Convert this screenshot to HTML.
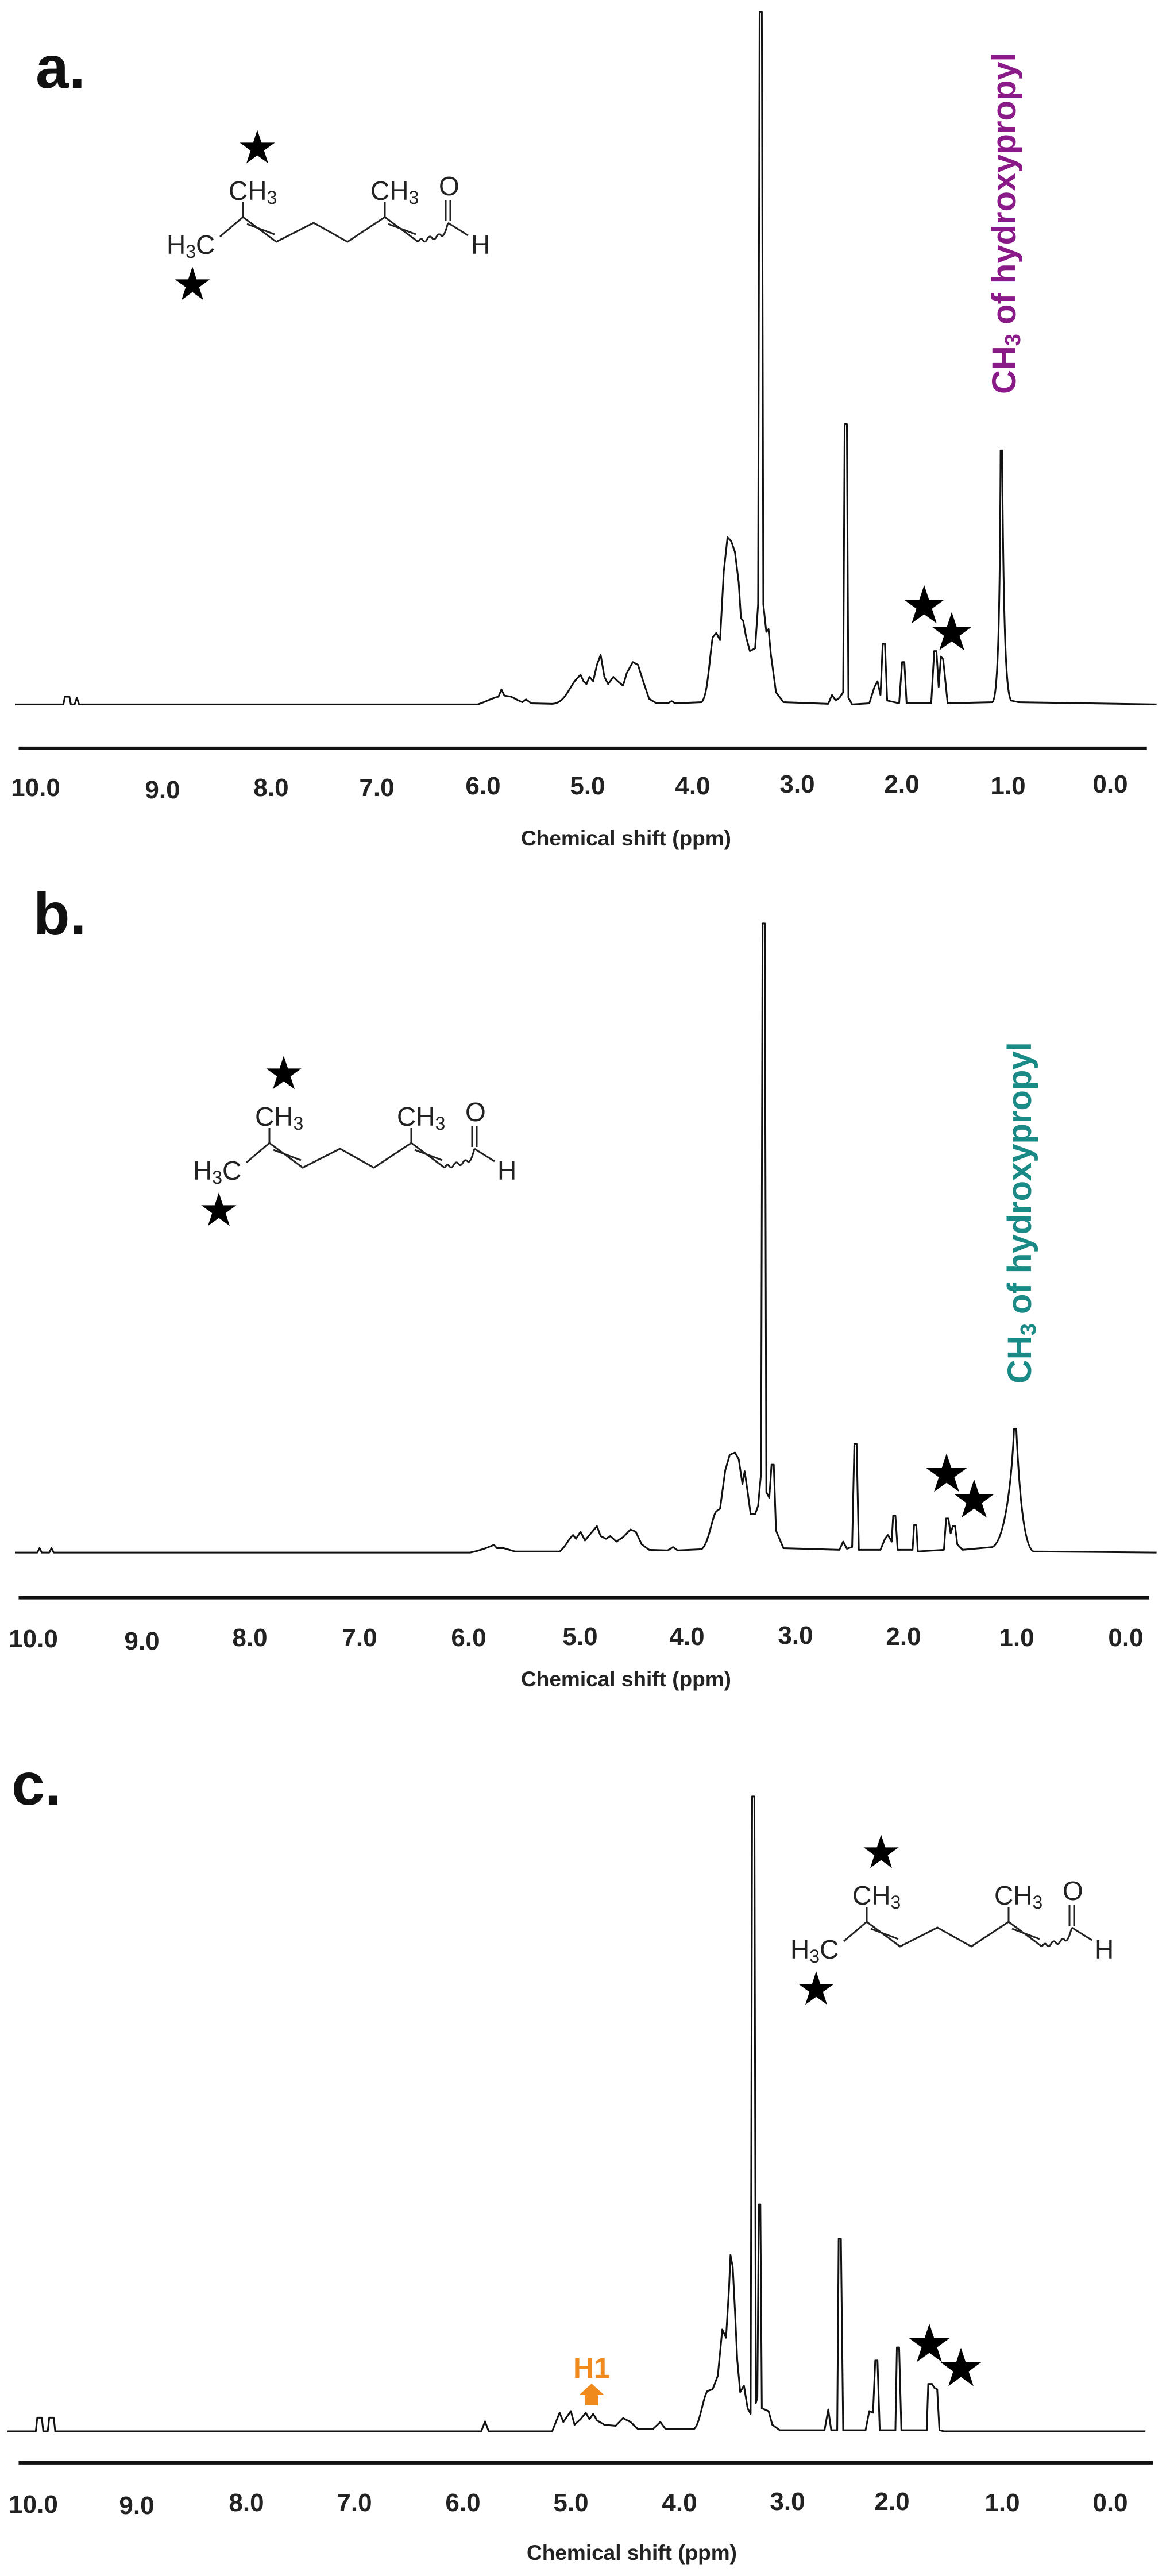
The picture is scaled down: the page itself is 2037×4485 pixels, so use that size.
<!DOCTYPE html>
<html><head><meta charset="utf-8"><style>
html,body{margin:0;padding:0;background:#fff;}
svg{display:block;}
.t{font-family:"Liberation Sans Narrow","Liberation Sans",sans-serif;font-weight:bold;font-size:44px;fill:#222;text-anchor:middle;}
.ti{font-family:"Liberation Sans",sans-serif;font-weight:bold;font-size:37px;fill:#222;text-anchor:middle;}
.lab{font-family:"Liberation Sans",sans-serif;font-weight:bold;font-size:104px;fill:#111;}
.st{font-family:"DejaVu Sans",sans-serif;fill:#000;text-anchor:middle;}
.ch{font-family:"Liberation Sans Narrow","Liberation Sans",sans-serif;font-size:46px;fill:#222;}
.sp{fill:none;stroke:#111;stroke-width:3;vector-effect:non-scaling-stroke;stroke-linejoin:round;}
.ax{stroke:#111;stroke-width:6;vector-effect:non-scaling-stroke;}
.bd{fill:none;stroke:#222;stroke-width:3;}
</style></head><body>
<svg width="2037" height="4485" viewBox="0 0 2037 4485" xmlns="http://www.w3.org/2000/svg">
<defs>
<g id="mol">
<path class="bd" d="M383,412 L423,378 L481,421 L546,388 L605,421 L670,378 L728,421 M423,378 L423,352 M670,378 L670,352 M430,390 L478,408 M676,390 L724,408"/>
<path class="bd" d="M728,421 q5,-8 8,-3 q4,6 8,-2 q4,-7 8,-2 q4,6 8,-2 q4,-7 8,-2 q5,5 12,-22 M780,388 L815,410 M776,385 L776,348 M784,385 L784,348"/>
</g>
</defs>

<!-- Panel a -->
<text class="lab" x="62" y="153">a.</text>
<g transform="scale(1.2991,0.9566)">
<path class="sp" d="M20,1282 L85,1282 L87,1268 L93,1268 L95,1282 L100,1282 L103,1270 L106,1282 L640,1282 C650,1278 660,1270 668,1268 L672,1255 L676,1266 L685,1268 L695,1275 L700,1278 L705,1273 L712,1280 L740,1281 C755,1280 760,1260 770,1240 L778,1228 L782,1240 L786,1245 L790,1232 L795,1240 L800,1210 L805,1192 L810,1232 L815,1245 L822,1232 L828,1240 L835,1248 L840,1225 L848,1205 L855,1210 L862,1240 L870,1272 L880,1280 L895,1280 L900,1276 L905,1280 L940,1278 C948,1270 950,1210 955,1160 L960,1152 L965,1165 L970,1040 L975,978 L980,985 L985,1005 L990,1060 L993,1125 L996,1130 L1000,1160 L1005,1185 L1012,1180 L1016,1100 L1018,22 L1021,22 L1023,1100 L1027,1150 L1030,1145 L1033,1190 L1040,1260 L1050,1278 L1110,1281 L1115,1265 L1120,1275 L1125,1270 L1130,1260 L1132,772 L1135,772 L1137,1270 L1142,1282 L1165,1280 L1172,1250 L1176,1240 L1180,1265 L1183,1172 L1186,1172 L1189,1275 L1205,1280 L1209,1205 L1212,1205 L1215,1280 L1248,1280 L1252,1185 L1255,1185 L1258,1250 L1261,1195 L1264,1200 L1267,1240 L1270,1280 L1330,1278 C1337,1270 1340,1150 1341,820 L1343,820 C1345,1150 1348,1260 1355,1275 L1365,1278 L1550,1282"/>
<line class="ax" x1="25" y1="1362" x2="1537" y2="1362"/>
</g>
<g>
<text class="t" x="62" y="1386">10.0</text><text class="t" x="283" y="1390">9.0</text><text class="t" x="472" y="1386">8.0</text><text class="t" x="656" y="1386">7.0</text><text class="t" x="841" y="1383">6.0</text><text class="t" x="1023" y="1383">5.0</text><text class="t" x="1206" y="1383">4.0</text><text class="t" x="1388" y="1380">3.0</text><text class="t" x="1570" y="1380">2.0</text><text class="t" x="1755" y="1383">1.0</text><text class="t" x="1933" y="1380">0.0</text>
<text class="ti" x="1090" y="1472">Chemical shift (ppm)</text>
</g>
<text transform="translate(1768,686) rotate(-90)" font-family="Liberation Sans,sans-serif" font-weight="bold" font-size="58" fill="#8a1a88">CH<tspan font-size="38" dy="8">3</tspan><tspan dy="-8"> of hydroxypropyl</tspan></text>
<text class="st" x="1609" y="1085" font-size="92">★</text>
<text class="st" x="1657" y="1132" font-size="92">★</text>
<g>
<use href="#mol"/>
<text class="st" x="448" y="284" font-size="80">★</text>
<text class="st" x="335" y="522" font-size="80">★</text>
<text class="ch" x="398" y="348">CH<tspan font-size="32" dy="7">3</tspan></text>
<text class="ch" x="645" y="348">CH<tspan font-size="32" dy="7">3</tspan></text>
<text class="ch" x="764" y="340">O</text>
<text class="ch" x="290" y="442">H<tspan font-size="32" dy="7">3</tspan><tspan dy="-7">C</tspan></text>
<text class="ch" x="820" y="442">H</text>
</g>

<!-- Panel b -->
<text class="lab" x="58" y="1627">b.</text>
<g transform="translate(0,1450) scale(1.2991,0.9566)">
<path class="sp" d="M20,1310 L50,1310 L53,1302 L56,1310 L66,1310 L69,1302 L72,1310 L630,1310 C645,1306 655,1300 662,1296 L666,1302 L675,1302 L690,1308 L750,1308 C758,1300 762,1285 768,1278 L772,1285 L778,1272 L784,1288 L790,1278 L800,1262 L805,1280 L812,1285 L818,1280 L826,1290 L835,1282 L845,1268 L852,1272 L860,1295 L870,1305 L895,1306 L902,1300 L908,1306 L940,1304 C950,1295 955,1240 960,1235 L965,1230 L972,1160 L978,1132 L985,1128 L990,1140 L995,1185 L998,1162 L1002,1200 L1006,1240 L1012,1240 L1016,1225 L1020,1165 L1022,165 L1025,165 L1027,1200 L1031,1210 L1034,1150 L1037,1150 L1040,1270 L1050,1302 L1125,1305 L1130,1290 L1135,1303 L1142,1300 L1145,1112 L1148,1112 L1151,1305 L1180,1305 L1186,1285 L1190,1278 L1195,1290 L1197,1243 L1200,1243 L1203,1305 L1223,1305 L1225,1260 L1228,1260 L1230,1308 L1265,1305 L1268,1248 L1271,1248 L1274,1275 L1277,1262 L1280,1262 L1283,1295 L1290,1305 L1330,1300 C1345,1290 1355,1200 1359,1085 L1362,1085 C1366,1200 1372,1300 1385,1308 L1550,1310"/>
<line class="ax" x1="25" y1="1392" x2="1540" y2="1392"/>
</g>
<g>
<text class="t" x="58" y="2868">10.0</text><text class="t" x="247" y="2872">9.0</text><text class="t" x="435" y="2866">8.0</text><text class="t" x="626" y="2866">7.0</text><text class="t" x="816" y="2866">6.0</text><text class="t" x="1010" y="2864">5.0</text><text class="t" x="1196" y="2864">4.0</text><text class="t" x="1385" y="2862">3.0</text><text class="t" x="1573" y="2864">2.0</text><text class="t" x="1770" y="2866">1.0</text><text class="t" x="1960" y="2866">0.0</text>
<text class="ti" x="1090" y="2936">Chemical shift (ppm)</text>
</g>
<text transform="translate(1795,2409) rotate(-90)" font-family="Liberation Sans,sans-serif" font-weight="bold" font-size="58" fill="#1a8a86">CH<tspan font-size="38" dy="8">3</tspan><tspan dy="-8"> of hydroxypropyl</tspan></text>
<text class="st" x="1648" y="2597" font-size="92">★</text>
<text class="st" x="1696" y="2642" font-size="92">★</text>
<g transform="translate(46,1612)">
<use href="#mol"/>
<text class="st" x="448" y="284" font-size="80">★</text>
<text class="st" x="335" y="522" font-size="80">★</text>
<text class="ch" x="398" y="348">CH<tspan font-size="32" dy="7">3</tspan></text>
<text class="ch" x="645" y="348">CH<tspan font-size="32" dy="7">3</tspan></text>
<text class="ch" x="764" y="340">O</text>
<text class="ch" x="290" y="442">H<tspan font-size="32" dy="7">3</tspan><tspan dy="-7">C</tspan></text>
<text class="ch" x="820" y="442">H</text>
</g>

<!-- Panel c -->
<text class="lab" x="20" y="3142">c.</text>
<g transform="translate(0,3000) scale(1.2991,0.947)">
<path class="sp" d="M10,1302 L48,1302 L50,1277 L56,1277 L58,1302 L64,1302 L66,1277 L72,1277 L74,1302 L645,1302 L650,1284 L655,1302 L740,1302 L745,1285 L750,1268 L755,1285 L760,1275 L765,1265 L770,1290 L778,1280 L785,1268 L790,1280 L795,1270 L800,1282 L810,1290 L825,1292 L835,1278 L845,1285 L855,1298 L875,1298 L885,1285 L892,1298 L930,1298 C938,1290 942,1240 948,1228 L955,1225 L962,1200 L968,1115 L973,1130 L977,1040 L979,978 L982,1000 L985,1080 L988,1170 L992,1230 L997,1218 L1002,1260 L1006,1270 L1008,135 L1011,135 L1013,1250 L1015,1240 L1017,885 L1019,885 L1021,1260 L1025,1262 L1030,1265 L1035,1290 L1045,1300 L1105,1300 L1110,1262 L1114,1300 L1122,1300 L1124,948 L1127,948 L1130,1300 L1160,1300 L1165,1265 L1170,1268 L1173,1172 L1176,1172 L1179,1300 L1200,1300 L1202,1148 L1205,1148 L1208,1300 L1242,1300 L1244,1215 L1249,1215 L1252,1222 L1256,1225 L1259,1300 L1265,1302 L1535,1302"/>
<line class="ax" x1="25" y1="1360" x2="1545" y2="1360"/>
</g>
<g>
<text class="t" x="58" y="4375">10.0</text><text class="t" x="238" y="4377">9.0</text><text class="t" x="429" y="4372">8.0</text><text class="t" x="617" y="4372">7.0</text><text class="t" x="806" y="4372">6.0</text><text class="t" x="994" y="4372">5.0</text><text class="t" x="1183" y="4372">4.0</text><text class="t" x="1371" y="4370">3.0</text><text class="t" x="1553" y="4370">2.0</text><text class="t" x="1745" y="4372">1.0</text><text class="t" x="1933" y="4372">0.0</text>
<text class="ti" x="1100" y="4457">Chemical shift (ppm)</text>
</g>
<text x="1030" y="4140" font-family="Liberation Sans,sans-serif" font-weight="bold" font-size="50" fill="#f08a1c" text-anchor="middle">H1</text>
<polygon points="1030,4150 1052,4170 1041,4170 1041,4188 1019,4188 1019,4170 1008,4170" fill="#f08a1c"/>
<text class="st" x="1618" y="4112" font-size="92">★</text>
<text class="st" x="1673" y="4154" font-size="92">★</text>
<g transform="translate(1086,2968)">
<use href="#mol"/>
<text class="st" x="448" y="284" font-size="80">★</text>
<text class="st" x="335" y="522" font-size="80">★</text>
<text class="ch" x="398" y="348">CH<tspan font-size="32" dy="7">3</tspan></text>
<text class="ch" x="645" y="348">CH<tspan font-size="32" dy="7">3</tspan></text>
<text class="ch" x="764" y="340">O</text>
<text class="ch" x="290" y="442">H<tspan font-size="32" dy="7">3</tspan><tspan dy="-7">C</tspan></text>
<text class="ch" x="820" y="442">H</text>
</g>
</svg>
</body></html>
